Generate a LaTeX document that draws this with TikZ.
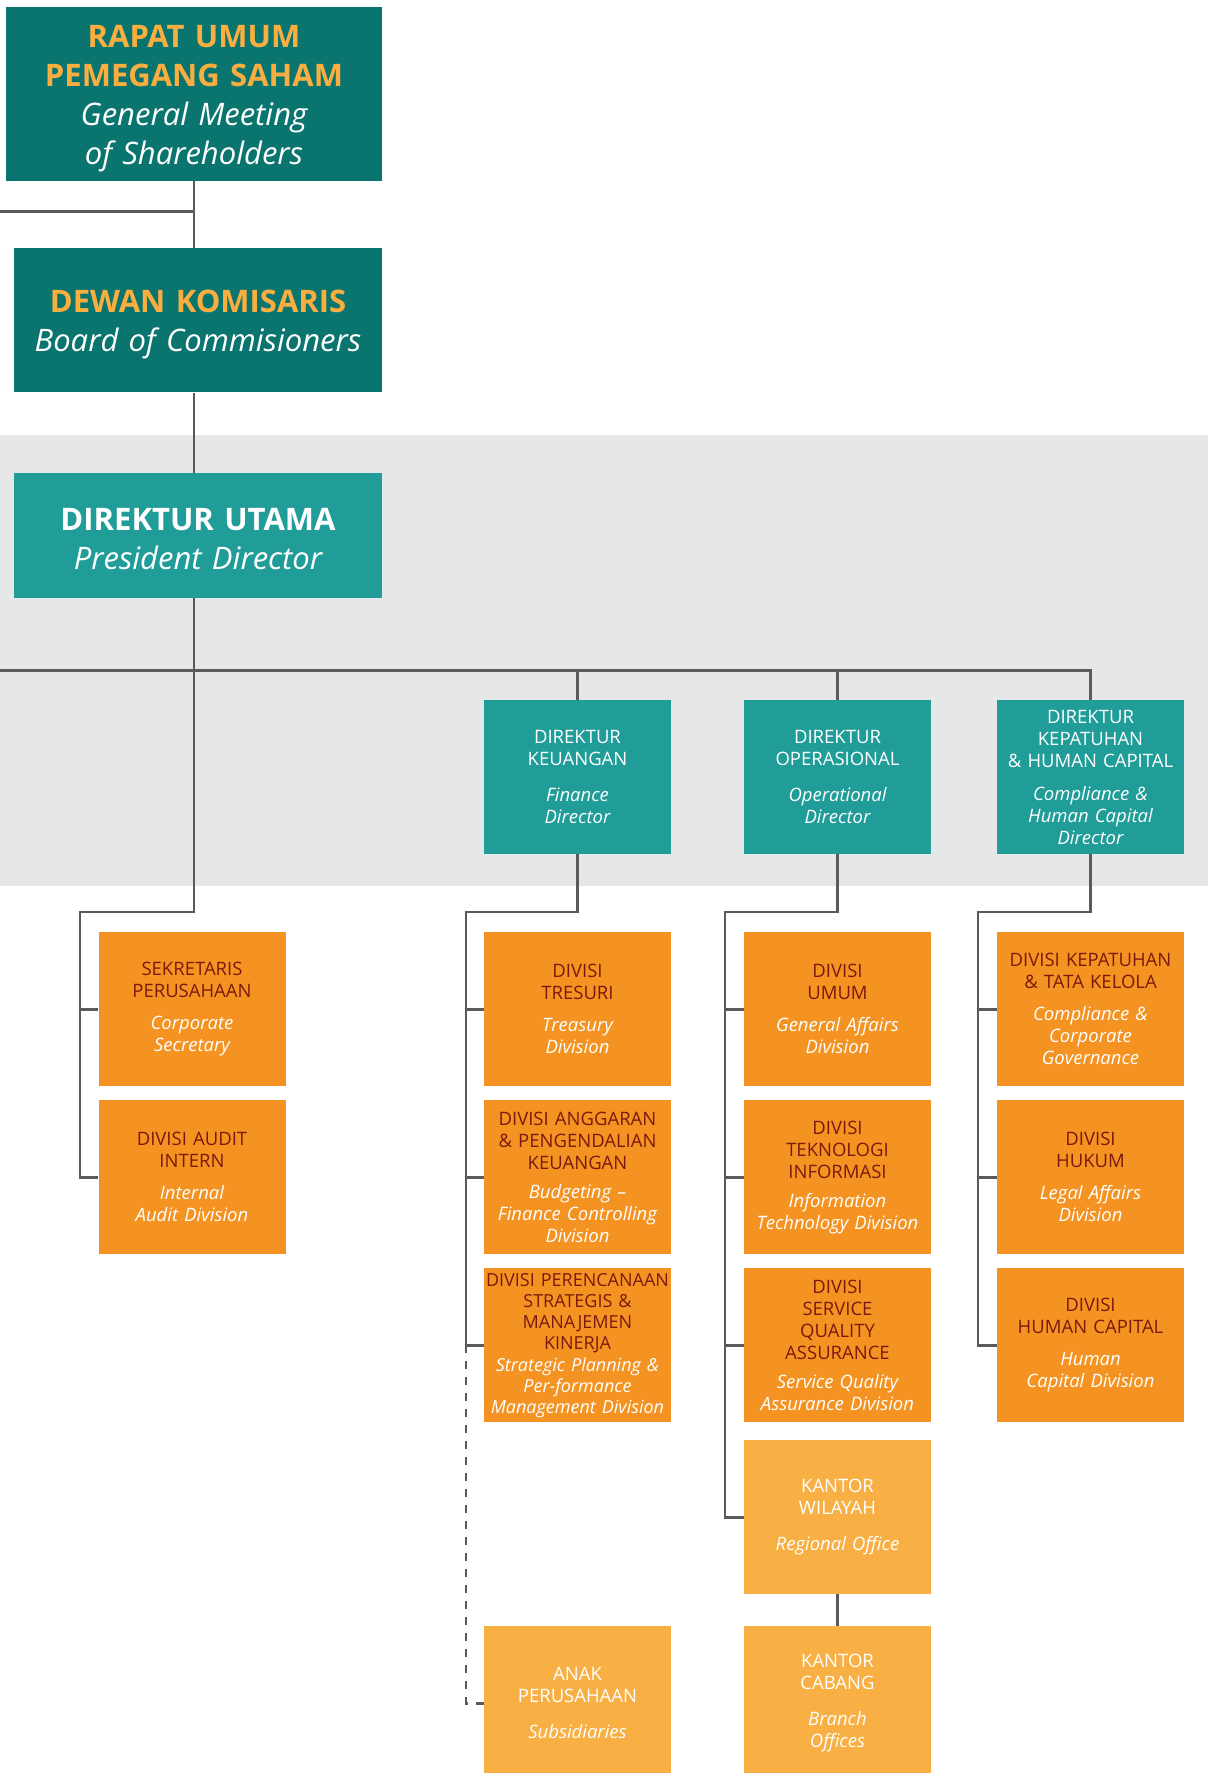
\documentclass[tikz,border=0pt]{standalone}
\usepackage{fontspec}
\setmainfont{Open Sans}

\definecolor{darkteal}{RGB}{10,117,110}
\definecolor{dirteal}{RGB}{32,157,152}
\definecolor{divorange}{RGB}{244,147,34}
\definecolor{officeorange}{RGB}{248,175,67}
\definecolor{titleorange}{RGB}{250,174,64}
\definecolor{divtext}{RGB}{122,26,14}
\definecolor{bandgrey}{RGB}{230,231,233}
\definecolor{linegrey}{RGB}{90,90,90}

% English subtitle (white italic)
\newcommand{\en}[1]{{\color{white}\mdseries\itshape #1}}

\tikzset{
  link/.style={draw=linegrey, line width=2.6pt},
  dashlink/.style={link, dash pattern=on 8pt off 8pt},
  topbox/.style={fill=darkteal, text=titleorange, inner sep=0pt, align=center,
    font=\fontsize{31}{39}\selectfont\bfseries},
  unitbox/.style={fill=divorange, text=divtext, anchor=north, inner sep=0pt,
    minimum width=187pt, minimum height=154pt, text width=187pt, align=center,
    font=\fontsize{18.5}{22}\selectfont},
  dirbox/.style={unitbox, fill=dirteal, text=white},
  officebox/.style={unitbox, fill=officeorange, text=white},
}

\begin{document}
\begin{tikzpicture}[x=1pt, y=-1pt]
    % --- Parameters (pixel grid, y downwards) ---
    \def\colA{192}      % left column
    \def\colB{577.5}    % finance column
    \def\colC{837.5}    % operational column
    \def\colD{1090.5}   % compliance column
    \def\rowA{932}
    \def\rowB{1100}
    \def\rowC{1268}
    \def\spineY{912}    % level where the spines turn

    \useasboundingbox (0,0) rectangle (1208,1773);

    % --- Board band ---
    \fill[bandgrey] (0,435) rectangle (1208,885.5);

    % --- Top of the structure ---
    \node[topbox, minimum width=376.5pt, minimum height=174pt, text width=370pt] (gms) at (194,94)
        {\rule{0pt}{31pt}RAPAT UMUM\\PEMEGANG SAHAM\\\en{General Meeting\\of Shareholders}};
    \node[topbox, minimum width=368.5pt, minimum height=144.5pt, text width=362pt] (bod) at (198,320.2)
        {\rule{0pt}{31pt}DEWAN KOMISARIS\\\en{Board of Commisioners}};
    \node[topbox, fill=dirteal, text=white, minimum width=368.5pt, minimum height=125pt, text width=362pt] (pd) at (198,535.5)
        {\rule{0pt}{30pt}DIREKTUR UTAMA\\\en{President Director}};

    % --- Directors ---
    \node[dirbox] (fd) at (\colB,700) {DIREKTUR\\KEUANGAN\\[14pt]\en{Finance\\Director}};
    \node[dirbox] (od) at (\colC,700) {DIREKTUR\\OPERASIONAL\\[14pt]\en{Operational\\Director}};
    \node[dirbox] (cd) at (\colD,700) {DIREKTUR\\KEPATUHAN\\\& HUMAN CAPITAL\\[11pt]\en{Compliance \&\\Human Capital\\Director}};

    % --- Units under the President Director ---
    \node[unitbox] (cs) at (\colA,\rowA) {SEKRETARIS\\PERUSAHAAN\\[10pt]\en{Corporate\\Secretary}};
    \node[unitbox] (ia) at (\colA,\rowB) {DIVISI AUDIT\\INTERN\\[10pt]\en{Internal\\Audit Division}};

    % --- Units under the Finance Director ---
    \node[unitbox] (tr) at (\colB,\rowA) {DIVISI\\TRESURI\\[10pt]\en{Treasury\\Division}};
    \node[unitbox] (bud) at (\colB,\rowB) {DIVISI ANGGARAN\\\& PENGENDALIAN\\KEUANGAN\\[7pt]\en{Budgeting --\\Finance Controlling\\Division}};
    \node[unitbox, font=\fontsize{18}{21}\selectfont] (sp) at (\colB,\rowC) {DIVISI PERENCANAAN\\STRATEGIS \&\\MANAJEMEN\\KINERJA\\[1pt]\en{Strategic Planning \&\\Per-formance\\Management Division}};
    \node[officebox] (sub) at (\colB,1626) {ANAK\\PERUSAHAAN\\[14pt]\en{Subsidiaries}};

    % --- Units under the Operational Director ---
    \node[unitbox] (ga) at (\colC,\rowA) {DIVISI\\UMUM\\[10pt]\en{General Affairs\\Division}};
    \node[unitbox] (it) at (\colC,\rowB) {DIVISI\\TEKNOLOGI\\INFORMASI\\[7pt]\en{Information\\Technology Division}};
    \node[unitbox] (sqa) at (\colC,\rowC) {DIVISI\\SERVICE\\QUALITY\\ASSURANCE\\[7pt]\en{Service Quality\\Assurance Division}};
    \node[officebox] (kw) at (\colC,1440) {KANTOR\\WILAYAH\\[14pt]\en{Regional Office}};
    \node[officebox] (kc) at (\colC,1626) {KANTOR\\CABANG\\[14pt]\en{Branch\\Offices}};

    % --- Units under the Compliance & HC Director ---
    \node[unitbox] (cg) at (\colD,\rowA) {DIVISI KEPATUHAN\\\& TATA KELOLA\\[10pt]\en{Compliance \&\\Corporate\\Governance}};
    \node[unitbox] (lg) at (\colD,\rowB) {DIVISI\\HUKUM\\[10pt]\en{Legal Affairs\\Division}};
    \node[unitbox] (hc) at (\colD,\rowC) {DIVISI\\HUMAN CAPITAL\\[10pt]\en{Human\\Capital Division}};

    % --- Free ends and spine corners ---
    \coordinate (gmsL) at (0,211.5);
    \coordinate (busL) at (0,670.7);
    \coordinate (spA) at (80,\spineY);
    \coordinate (spB) at (466,\spineY);
    \coordinate (spC) at (725,\spineY);
    \coordinate (spD) at (978,\spineY);

    % --- Main line ---
    \draw[link] (gms.south) -- (gms.south |- bod.north);
    \draw[link] (gmsL) -- (gms.south |- gmsL);
    \draw[link] (gms.south |- bod.south) -- (gms.south |- pd.north);
    \draw[link] (busL) -| (cd.north);
    \draw[link] (fd.north) -- (fd.north |- busL);
    \draw[link] (od.north) -- (od.north |- busL);

    % --- Spines ---
    \draw[link] (gms.south |- pd.south) |- (spA) |- (ia.west);
    \draw[link] (spA |- cs.west) -- (cs.west);

    \draw[link] (fd.south) |- (spB) |- (sp.west);
    \draw[link] (spB |- tr.west) -- (tr.west);
    \draw[link] (spB |- bud.west) -- (bud.west);
    \draw[dashlink] (spB |- sp.west) |- (sub.west);

    \draw[link] (od.south) |- (spC) |- (kw.west);
    \draw[link] (spC |- ga.west) -- (ga.west);
    \draw[link] (spC |- it.west) -- (it.west);
    \draw[link] (spC |- sqa.west) -- (sqa.west);
    \draw[link] (kw) -- (kc);

    \draw[link] (cd.south) |- (spD) |- (hc.west);
    \draw[link] (spD |- cg.west) -- (cg.west);
    \draw[link] (spD |- lg.west) -- (lg.west);
\end{tikzpicture}
\end{document}
